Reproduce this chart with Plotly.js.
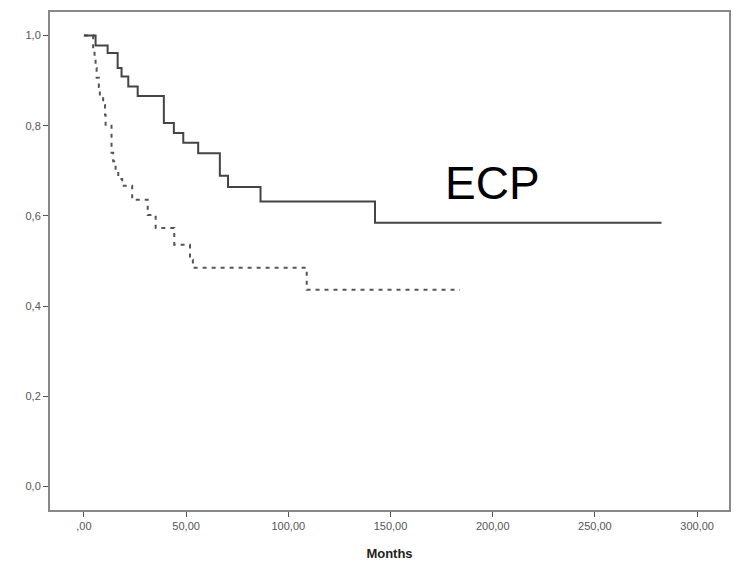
<!DOCTYPE html>
<html>
<head>
<meta charset="utf-8">
<script src="https://cdn.plot.ly/plotly-3.0.1.min.js"></script>
<style>html,body{margin:0;padding:0;background:#fff;}#chart{width:738px;height:565px;}</style>
</head>
<body>
<div id="chart"></div>
<script>
// Kaplan-Meier curves
var ecpTime = [0, 5.7, 11.6, 16.5, 18.4, 21.7, 26.3, 39.1, 44.0, 48.6, 55.9, 66.5, 70.5, 86.4, 142.4, 282.6];
var ecpSurv = [1.0, 0.978, 0.961, 0.928, 0.909, 0.887, 0.866, 0.806, 0.784, 0.762, 0.739, 0.689, 0.664, 0.632, 0.585, 0.585];

var ctrlTime = [0, 4.5, 5.2, 5.7, 6.2, 7.3, 7.8, 9.4, 10.3, 10.6, 13.5, 14.3, 15.5, 16.8, 18.7, 23.6, 31.2, 35.1, 44.2, 51.9, 53.3, 109.0, 184.0];
var ctrlSurv = [1.0, 0.968, 0.951, 0.928, 0.906, 0.886, 0.869, 0.846, 0.824, 0.802, 0.740, 0.721, 0.702, 0.682, 0.667, 0.636, 0.602, 0.573, 0.536, 0.503, 0.485, 0.436, 0.436];

var xTickVals = [0, 50, 100, 150, 200, 250, 300];
var xTickText = [",00", "50,00", "100,00", "150,00", "200,00", "250,00", "300,00"];
var yTickVals = [0, 0.2, 0.4, 0.6, 0.8, 1.0];
var yTickText = ["0,0", "0,2", "0,4", "0,6", "0,8", "1,0"];

var traces = [
  {x: ctrlTime, y: ctrlSurv, mode: 'lines', line: {shape: 'hv', color: '#555', width: 2, dash: '4px,5px'}, hoverinfo: 'none'},
  {x: ecpTime, y: ecpSurv, mode: 'lines', line: {shape: 'hv', color: '#444', width: 2}, hoverinfo: 'none'}
];

var layout = {
  width: 738, height: 565,
  margin: {l: 50, r: 9, t: 12, b: 55},
  paper_bgcolor: '#fff', plot_bgcolor: '#fff',
  showlegend: false,
  font: {family: 'Liberation Sans, Arial, sans-serif', color: '#555', size: 11},
  xaxis: {
    range: [-16.6, 315.6], tickvals: xTickVals, ticktext: xTickText,
    showgrid: false, zeroline: false, showline: true, mirror: true,
    linecolor: '#888', linewidth: 2, ticks: 'outside', ticklen: 5, tickcolor: '#555', tickwidth: 1,
    tickfont: {size: 11, color: '#555'},
    title: {text: '<b>Months</b>', font: {size: 13, color: '#222'}, standoff: 18}
  },
  yaxis: {
    range: [-0.052, 1.052], tickvals: yTickVals, ticktext: yTickText,
    showgrid: false, zeroline: false, showline: true, mirror: true,
    linecolor: '#888', linewidth: 2, ticks: 'outside', ticklen: 5, tickcolor: '#555', tickwidth: 1,
    tickfont: {size: 11, color: '#555'}
  },
  annotations: [
    {x: 0.652, y: 0.656, xref: 'paper', yref: 'paper', text: 'ECP', showarrow: false,
     font: {family: 'Liberation Sans, Arial, sans-serif', size: 46, color: '#000'}, xanchor: 'center', yanchor: 'middle'}
  ]
};

Plotly.newPlot('chart', traces, layout, {displayModeBar: false, staticPlot: true});
</script>
</body>
</html>
